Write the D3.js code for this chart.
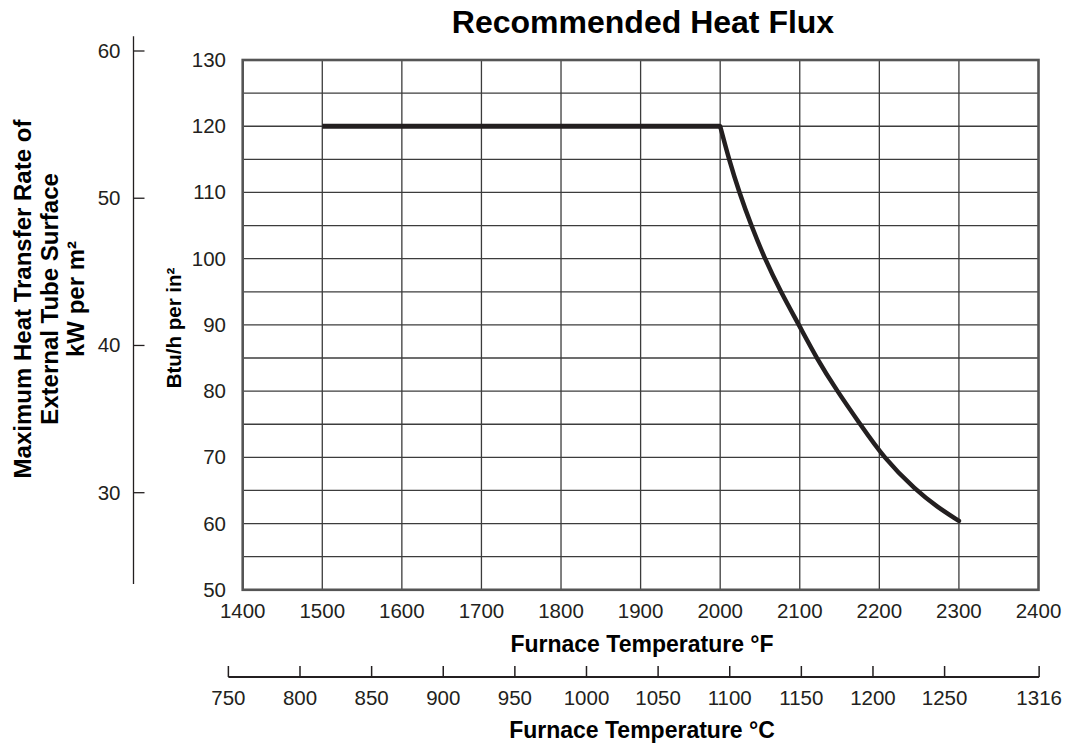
<!DOCTYPE html>
<html lang="en">
<head>
<meta charset="utf-8">
<title>Recommended Heat Flux</title>
<style>
  body { margin: 0; background: #fff; }
  svg { display: block; font-family: "Liberation Sans", Arial, sans-serif; }
  .grid line { stroke: #3c3c3c; stroke-width: 1.3px; }
  .tick-label { font-size: 20.5px; fill: #231f20; }
  .bold { font-weight: bold; fill: #000; }
</style>
</head>
<body>
<svg width="1066" height="744"></svg>
<script src="https://cdnjs.cloudflare.com/ajax/libs/d3/7.8.5/d3.min.js"></script>
<script>
// furnace temperature (°F) vs recommended heat flux (Btu/h per in²)
var tempF = [1500, 2000, 2011, 2024, 2039, 2056, 2076, 2099, 2121, 2147, 2176, 2205, 2246, 2273, 2300];
var fluxBtu = [120, 120, 115, 110, 105, 100, 95, 90, 85, 80, 75, 70, 65, 62.5, 60.4];

var fTicks = [1400, 1500, 1600, 1700, 1800, 1900, 2000, 2100, 2200, 2300, 2400];
var btuTicks = [50, 60, 70, 80, 90, 100, 110, 120, 130];
var btuGrid = [55, 60, 65, 70, 75, 80, 85, 90, 95, 100, 105, 110, 115, 120, 125];
var kwTicks = [30, 40, 50, 60];
var cTicks = [750, 800, 850, 900, 950, 1000, 1050, 1100, 1150, 1200, 1250, 1316];

var svg = d3.select('svg');

var x = d3.scaleLinear().domain([1400, 2400]).range([242.7, 1038.5]);
var y = d3.scaleLinear().domain([50, 130]).range([589.8, 60]);
var yKw = d3.scaleLinear().domain([30, 60]).range([492.7, 51]);
var xC = function(c) { return x(c * 1.8 + 32); };

// title
svg.append('text')
  .attr('class', 'bold')
  .attr('x', 643).attr('y', 33)
  .attr('text-anchor', 'middle')
  .style('font-size', '32px')
  .text('Recommended Heat Flux');

// grid
var grid = svg.append('g').attr('class', 'grid');
grid.selectAll('line.h')
  .data(btuGrid)
  .enter().append('line')
  .attr('class', 'h')
  .attr('x1', x(1400)).attr('x2', x(2400))
  .attr('y1', function(d) { return y(d); })
  .attr('y2', function(d) { return y(d); });
grid.selectAll('line.v')
  .data(fTicks.slice(1, -1))
  .enter().append('line')
  .attr('class', 'v')
  .attr('y1', y(50)).attr('y2', y(130))
  .attr('x1', function(d) { return x(d); })
  .attr('x2', function(d) { return x(d); });

// plot frame
svg.append('rect')
  .attr('x', x(1400)).attr('y', y(130))
  .attr('width', x(2400) - x(1400))
  .attr('height', y(50) - y(130))
  .attr('fill', 'none')
  .attr('stroke', '#555')
  .attr('stroke-width', 2.6);

// Btu tick labels
svg.selectAll('text.btu')
  .data(btuTicks)
  .enter().append('text')
  .attr('class', 'btu tick-label')
  .attr('x', 226)
  .attr('y', function(d) { return y(d) + 7; })
  .attr('text-anchor', 'end')
  .text(function(d) { return d; });

// °F tick labels
svg.selectAll('text.fl')
  .data(fTicks)
  .enter().append('text')
  .attr('class', 'fl tick-label')
  .attr('x', function(d) { return x(d); })
  .attr('y', 618)
  .attr('text-anchor', 'middle')
  .text(function(d) { return d; });

svg.append('text')
  .attr('class', 'bold')
  .attr('x', 642).attr('y', 652)
  .attr('text-anchor', 'middle')
  .style('font-size', '23px')
  .text('Furnace Temperature °F');

// °C axis
var cAxis = svg.append('g').attr('transform', 'translate(0,677)');
cAxis.append('line')
  .attr('x1', xC(750)).attr('x2', xC(1316))
  .attr('stroke', '#231f20').attr('stroke-width', 2);
cAxis.selectAll('line.t')
  .data(cTicks)
  .enter().append('line')
  .attr('class', 't')
  .attr('x1', function(d) { return xC(d); })
  .attr('x2', function(d) { return xC(d); })
  .attr('y1', 0).attr('y2', -11)
  .attr('stroke', '#231f20').attr('stroke-width', 1.5);
cAxis.selectAll('text')
  .data(cTicks)
  .enter().append('text')
  .attr('class', 'tick-label')
  .attr('x', function(d) { return xC(d); })
  .attr('y', 28)
  .attr('text-anchor', 'middle')
  .text(function(d) { return d; });

svg.append('text')
  .attr('class', 'bold')
  .attr('x', 642).attr('y', 738)
  .attr('text-anchor', 'middle')
  .style('font-size', '23px')
  .text('Furnace Temperature °C');

// kW axis
var kw = svg.append('g').attr('transform', 'translate(133.5,0)');
kw.append('line')
  .attr('y1', yKw(61)).attr('y2', yKw(23.8))
  .attr('stroke', '#231f20').attr('stroke-width', 1.3);
kw.selectAll('line.t')
  .data(kwTicks)
  .enter().append('line')
  .attr('class', 't')
  .attr('x1', 0).attr('x2', 11)
  .attr('y1', function(d) { return yKw(d); })
  .attr('y2', function(d) { return yKw(d); })
  .attr('stroke', '#231f20').attr('stroke-width', 1.3);
kw.selectAll('text')
  .data(kwTicks)
  .enter().append('text')
  .attr('class', 'tick-label')
  .attr('x', -13)
  .attr('y', function(d) { return yKw(d) + 7; })
  .attr('text-anchor', 'end')
  .text(function(d) { return d; });

// axis titles (rotated)
var leftTitle = svg.append('text')
  .attr('class', 'bold')
  .attr('transform', 'translate(0,299) rotate(-90)')
  .attr('text-anchor', 'middle')
  .style('font-size', '24px');
leftTitle.append('tspan').attr('x', 0).attr('y', 31).text('Maximum Heat Transfer Rate of');
leftTitle.append('tspan').attr('x', 0).attr('y', 58).text('External Tube Surface');
leftTitle.append('tspan').attr('x', 0).attr('y', 84).text('kW per m²');

svg.append('text')
  .attr('class', 'bold')
  .attr('transform', 'translate(181,328) rotate(-90)')
  .attr('text-anchor', 'middle')
  .style('font-size', '20.5px')
  .text('Btu/h per in²');

// heat flux curve
var pts = tempF.map(function(t, i) { return [t, fluxBtu[i]]; });
var flat = pts.slice(0, 2);
var drop = pts.slice(1);

var line = d3.line()
  .x(function(d) { return x(d[0]); })
  .y(function(d) { return y(d[1]); });

svg.append('path')
  .datum(flat)
  .attr('d', line)
  .attr('fill', 'none')
  .attr('stroke', '#231f20')
  .attr('stroke-width', 5);

svg.append('path')
  .datum(drop)
  .attr('d', line.curve(d3.curveBasis))
  .attr('fill', 'none')
  .attr('stroke', '#231f20')
  .attr('stroke-width', 4.5)
  .attr('stroke-linecap', 'round');
</script>
</body>
</html>
